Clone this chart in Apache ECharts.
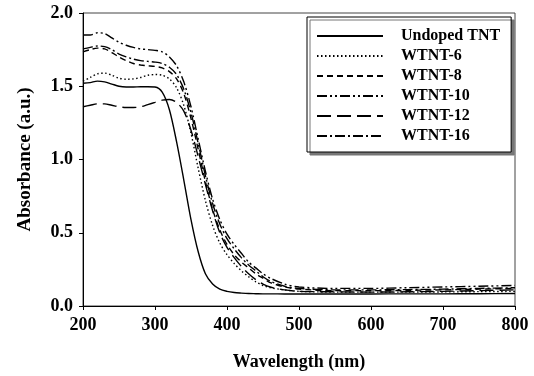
<!DOCTYPE html>
<html>
<head>
<meta charset="utf-8">
<script src="https://cdn.jsdelivr.net/npm/echarts@6/dist/echarts.min.js"></script>
<style>html,body{margin:0;padding:0;background:#fff}#c{width:534px;height:376px}</style>
</head>
<body>
<div id="c"></div>
<script>
const wavelengths = [200,210,220,230,240,250,260,270,280,290,300,310,320,330,340,350,360,370,380,390,400,410,420,430,440,450,460,480,500,550,600,650,700,750,800];
const undopedTNT = [1.52,1.525,1.535,1.53,1.515,1.50,1.495,1.495,1.497,1.497,1.495,1.46,1.34,1.12,0.86,0.59,0.37,0.22,0.15,0.115,0.1,0.092,0.088,0.085,0.084,0.083,0.083,0.082,0.082,0.082,0.082,0.083,0.083,0.084,0.085];
const wtnt6 = [1.535,1.56,1.585,1.59,1.575,1.555,1.548,1.55,1.56,1.575,1.58,1.575,1.55,1.49,1.37,1.18,0.94,0.72,0.55,0.43,0.35,0.29,0.24,0.2,0.165,0.14,0.125,0.11,0.1,0.095,0.095,0.095,0.096,0.098,0.1];
const wtnt8 = [1.735,1.75,1.76,1.755,1.73,1.70,1.675,1.655,1.645,1.64,1.635,1.625,1.6,1.55,1.45,1.28,1.07,0.85,0.66,0.52,0.42,0.35,0.3,0.26,0.22,0.19,0.16,0.13,0.115,0.105,0.105,0.107,0.11,0.115,0.12];
const wtnt10 = [1.85,1.85,1.865,1.86,1.83,1.80,1.78,1.765,1.755,1.75,1.745,1.735,1.70,1.64,1.53,1.36,1.14,0.92,0.73,0.59,0.49,0.42,0.36,0.3,0.26,0.22,0.19,0.15,0.13,0.12,0.12,0.125,0.13,0.135,0.14];
const wtnt12 = [1.36,1.37,1.38,1.38,1.37,1.36,1.355,1.355,1.36,1.375,1.39,1.405,1.41,1.39,1.33,1.2,1.02,0.83,0.65,0.5,0.4,0.33,0.27,0.22,0.18,0.15,0.13,0.11,0.1,0.097,0.095,0.097,0.1,0.105,0.11];
const wtnt16 = [1.755,1.765,1.775,1.77,1.75,1.72,1.70,1.685,1.675,1.67,1.665,1.655,1.63,1.58,1.48,1.32,1.11,0.89,0.7,0.56,0.46,0.39,0.33,0.28,0.24,0.2,0.17,0.135,0.12,0.11,0.11,0.112,0.115,0.12,0.125];
const seriesNames = ['Undoped TNT','WTNT-6','WTNT-8','WTNT-10','WTNT-12','WTNT-16'];
const seriesValues = [undopedTNT, wtnt6, wtnt8, wtnt10, wtnt12, wtnt16];
const xTicks = [200,300,400,500,600,700,800];
const yTicks = [0.0,0.5,1.0,1.5,2.0];

const dashTypes = ['solid',[1.5,2.5],[6,4],[10,3,2,3,2,3],[14,6],[10,3,2,3]];
const font = 'Liberation Serif';

const chart = echarts.init(document.getElementById('c'), null, {renderer:'canvas'});
chart.setOption({
  backgroundColor:'#fff',
  animation:false,
  grid:{left:83,right:19,top:13,bottom:70,show:true,borderColor:'#444',borderWidth:1},
  legend:{
    left:307, top:17,
    orient:'vertical',
    itemWidth:66, itemHeight:14, itemGap:4,
    padding:[11,11,8,9],
    borderColor:'#000', borderWidth:1,
    backgroundColor:'#fff',
    shadowColor:'#777', shadowBlur:0, shadowOffsetX:3, shadowOffsetY:3,
    itemStyle:{color:'rgba(0,0,0,0)',borderWidth:0,opacity:0},
    textStyle:{fontFamily:font,fontWeight:'bold',fontSize:16,color:'#000',padding:[0,0,0,13]},
    data:seriesNames
  },
  xAxis:{
    type:'value', min:xTicks[0], max:xTicks[xTicks.length-1], interval:100,
    name:'Wavelength (nm)', nameLocation:'middle', nameGap:47,
    nameTextStyle:{fontFamily:font,fontWeight:'bold',fontSize:18,color:'#000'},
    axisLine:{lineStyle:{color:'#000',width:1}},
    axisTick:{show:true,length:4,inside:false,lineStyle:{color:'#000'}},
    axisLabel:{fontFamily:font,fontWeight:'bold',fontSize:18,color:'#000',margin:10},
    splitLine:{show:false}
  },
  yAxis:{
    type:'value', min:yTicks[0], max:yTicks[yTicks.length-1], interval:0.5,
    name:'Absorbance (a.u.)', nameLocation:'middle', nameGap:48,
    nameTextStyle:{fontFamily:font,fontWeight:'bold',fontSize:19,color:'#000'},
    axisLine:{show:true,lineStyle:{color:'#000',width:1}},
    axisTick:{show:true,length:4,lineStyle:{color:'#000'}},
    axisLabel:{fontFamily:font,fontWeight:'bold',fontSize:18,color:'#000',margin:10,formatter:v=>v.toFixed(1)},
    splitLine:{show:false}
  },
  series: seriesNames.map((n,i)=>({
    name:n, type:'line', smooth:0.3, symbol:'none',
    lineStyle:{color:'#000',width:1.4,type:dashTypes[i]},
    itemStyle:{color:'#000'},
    data: wavelengths.map((w,j)=>[w, seriesValues[i][j]])
  }))
});
</script>
</body>
</html>
